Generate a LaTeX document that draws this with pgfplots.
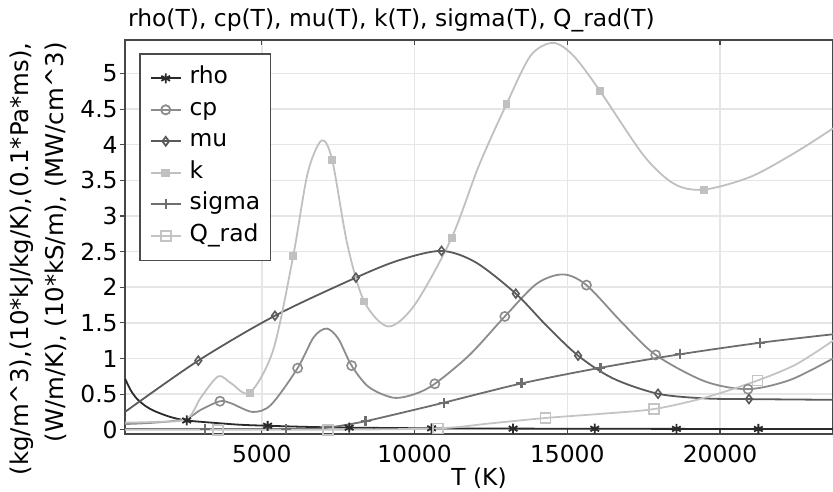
\documentclass[border=0pt]{standalone}
\usepackage{pgfplots}
\pgfplotsset{compat=1.18}
\usepackage{fontspec}
\setmainfont{DejaVu Sans}
\definecolor{crho}{HTML}{2A2A2A}
\definecolor{ccp}{HTML}{8C8C8C}
\definecolor{cmu}{HTML}{5A5A5A}
\definecolor{ck}{HTML}{C0C0C0}
\definecolor{csig}{HTML}{6E6E6E}
\definecolor{cq}{HTML}{C4C4C4}
\definecolor{cgrid}{HTML}{E6E6E6}
\begin{document}
\begin{tikzpicture}
\begin{axis}[
  scale only axis, width=354pt, height=197pt,
  xmin=520, xmax=23700, ymin=-0.06, ymax=5.47,
  xtick={5000,10000,15000,20000},
  xticklabels={5000,10000,15000,20000},
  scaled x ticks=false,
  ytick={0,0.5,1,1.5,2,2.5,3,3.5,4,4.5,5},
  yticklabels={0,0.5,1,1.5,2,2.5,3,3.5,4,4.5,5},
  font=\fontsize{11.7}{14}\selectfont,
  grid=major, major grid style={color=cgrid, line width=0.75pt},
  axis line style={color=black!72, line width=0.8pt},
  tick style={color=black!72, line width=0.6pt},
  xtick align=inside, ytick align=outside,
  xtick pos=both, ytick pos=left,
  major tick length=2.5pt,
  xticklabel style={inner sep=0pt, yshift=-5.5pt},
  yticklabel style={inner sep=0pt, xshift=-1pt},
  every axis title shift=0pt,
  title={rho(T), cp(T), mu(T), k(T), sigma(T), Q\_rad(T)},
  title style={at={(rel axis cs:0,1)}, anchor=base west, xshift=1.35pt, yshift=7pt, inner sep=0pt},
  xlabel={T (K)},
  xlabel style={at={(axis description cs:0.5,0)}, anchor=north, yshift=-16.5pt, inner sep=0pt},
  ylabel={(kg/m\^{}3),(10*kJ/kg/K),(0.1*Pa*ms),\\(W/m/K), (10*kS/m), (MW/cm\^{}3)},
  ylabel style={at={(axis description cs:-0.1222,0.995)}, anchor=east, align=right, inner sep=0pt, font=\fontsize{12.2}{17.5}\selectfont},
  legend cell align=left,
  legend image code/.code={\draw[mark repeat=2,mark phase=2,#1] plot coordinates {(0pt,0pt) (7.5pt,0pt) (15pt,0pt)};},
  legend style={at={(rel axis cs:0.0198,0.967)}, anchor=north west, draw=black!70, line width=0.8pt, fill=white,
    inner xsep=5pt, inner ysep=6.5pt, row sep=4.25pt, column sep=4pt,
    nodes={inner sep=0pt, text height=8.5pt, text depth=3pt, font=\fontsize{11.7}{14}\selectfont}},
]
% rho
\addplot[crho, line width=0.9pt, smooth, forget plot] coordinates {
(520,0.72) (700,0.56) (900,0.44) (1200,0.33) (1500,0.26) (2000,0.18) (2540,0.13) (3500,0.095) (4300,0.07) (5190,0.056) (6500,0.04) (7860,0.03) (10556,0.02) (13226,0.016) (15899,0.014) (18573,0.012) (21256,0.011) (23700,0.01)};
% cp
\addplot[ccp, line width=0.9pt, smooth, forget plot] coordinates {
(520,0.08) (1500,0.10) (2500,0.15) (3000,0.28) (3630,0.40) (4000,0.37) (4700,0.25) (5300,0.35) (6172,0.865) (6700,1.30) (7121,1.42) (7500,1.28) (7939,0.90) (8500,0.60) (9300,0.45) (10000,0.50) (10664,0.645) (11800,1.05) (12955,1.59) (14000,2.05) (14862,2.18) (15628,2.03) (16800,1.50) (17895,1.05) (19500,0.68) (20916,0.57) (22300,0.70) (23700,1.0)};
% mu
\addplot[cmu, line width=0.9pt, smooth, forget plot] coordinates {
(520,0.25) (2920,0.97) (5429,1.60) (8080,2.135) (9500,2.38) (10883,2.51) (12000,2.35) (13315,1.91) (14300,1.47) (15354,1.04) (16500,0.72) (17971,0.505) (19500,0.44) (20949,0.43) (23700,0.42)};
% k
\addplot[ck, line width=0.9pt, smooth, forget plot] coordinates {
(520,0.10) (1500,0.11) (2540,0.15) (3000,0.45) (3574,0.75) (4000,0.65) (4611,0.52) (5373,1.12) (6028,2.44) (6500,3.6) (6957,4.06) (7304,3.785) (7800,2.6) (8351,1.80) (9136,1.45) (10000,1.75) (11211,2.69) (12100,3.7) (13010,4.57) (13800,5.25) (14535,5.43) (15200,5.25) (16063,4.76) (17500,3.85) (18500,3.45) (19466,3.37) (21000,3.55) (22500,3.9) (23700,4.23)};
% sigma
\addplot[csig, line width=0.9pt, smooth, forget plot] coordinates {
(520,0.01) (3138,0.01) (5779,0.01) (6800,0.015) (7500,0.05) (8397,0.12) (9700,0.25) (10959,0.38) (13501,0.65) (16086,0.87) (18703,1.06) (21298,1.22) (23700,1.34)};
% Q_rad
\addplot[cq, line width=0.9pt, smooth, forget plot] coordinates {
(520,0.0) (3563,0.0) (7162,0.0) (10773,0.02) (12500,0.09) (14286,0.165) (16000,0.22) (17830,0.29) (19500,0.45) (21223,0.69) (22500,0.92) (23700,1.25)};
% markers
\addplot[crho, only marks, mark=asterisk, mark size=2.5pt, line width=0.9pt, forget plot] coordinates {
(2540,0.13) (5190,0.056) (7860,0.03) (10556,0.02) (13226,0.016) (15899,0.014) (18573,0.012) (21256,0.011)};
\addplot[ccp, only marks, mark=o, mark size=2.3pt, line width=0.8pt, forget plot] coordinates {
(3630,0.40) (6172,0.865) (7939,0.90) (10664,0.645) (12955,1.59) (15628,2.03) (17895,1.05) (20916,0.57)};
\addplot[cmu, only marks, mark=diamond, mark size=2.2pt, line width=0.8pt, forget plot] coordinates {
(2920,0.97) (5429,1.60) (8080,2.135) (10883,2.51) (13315,1.91) (15354,1.04) (17971,0.505) (20949,0.43)};
\addplot[ck, only marks, mark=square*, mark size=1.7pt, forget plot] coordinates {
(4611,0.52) (6028,2.44) (7304,3.785) (8351,1.80) (11211,2.69) (13010,4.57) (16063,4.76) (19466,3.37)};
\addplot[csig, only marks, mark=+, mark size=2.5pt, line width=1.1pt, forget plot] coordinates {
(3138,0.01) (5779,0.01) (8397,0.12) (10959,0.38) (13501,0.65) (16086,0.87) (18703,1.06) (21298,1.22)};
\addplot[cq, only marks, mark=square, mark size=2.5pt, line width=0.8pt, forget plot] coordinates {
(3563,0.0) (7162,0.0) (10773,0.02) (14286,0.165) (17830,0.29) (21223,0.69)};
% legend
\addlegendimage{crho, line width=0.9pt, mark=asterisk, mark size=2.5pt}
\addlegendentry{rho}
\addlegendimage{ccp, line width=0.9pt, mark=o, mark size=2.3pt}
\addlegendentry{cp}
\addlegendimage{cmu, line width=0.9pt, mark=diamond, mark size=2.2pt}
\addlegendentry{mu}
\addlegendimage{ck, line width=0.9pt, mark=square*, mark size=1.7pt}
\addlegendentry{k}
\addlegendimage{csig, line width=0.9pt, mark=+, mark size=2.5pt}
\addlegendentry{sigma}
\addlegendimage{cq, line width=0.9pt, mark=square, mark size=2.5pt}
\addlegendentry{Q\_rad}
\end{axis}
\pgfresetboundingbox
\path[use as bounding box] ([xshift=-62.5pt,yshift=-28.5pt]current axis.south west) rectangle ([yshift=20pt]current axis.north east);
\end{tikzpicture}
\end{document}
